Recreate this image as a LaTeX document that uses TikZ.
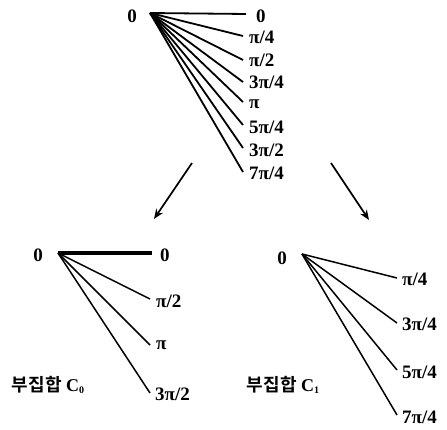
\documentclass[tikz,border=0pt]{standalone}
\usepackage{fontspec}
\setmainfont{Liberation Serif}
\newfontfamily\kr{Noto Sans CJK KR}[BoldFont={Noto Sans CJK KR Bold}]
\usetikzlibrary{arrows.meta}
\begin{document}
\begin{tikzpicture}[x=1pt,y=-1pt,
  lbl/.style={font=\bfseries\fontsize{19}{19}\selectfont, inner sep=0pt, anchor=west},
  src/.style={font=\bfseries\fontsize{19}{19}\selectfont, inner sep=0pt},
  ray/.style={line width=1.8pt},
  sray/.style={line width=1.5pt},
  arr/.style={line width=1.7pt, -{Stealth[length=10pt,width=8pt]}},
  sub/.style={font=\fontsize{18}{18}\selectfont, inner sep=0pt}]
\useasboundingbox (0,0) rectangle (447,430);
% top fan
\node[src] (t0) at (132,16) {0};
\coordinate (ta) at (150,13);
\coordinate (te0) at (246,14);
\coordinate (te1) at (243,36);
\coordinate (te2) at (243,60);
\coordinate (te3) at (243,82);
\coordinate (te4) at (243,102);
\coordinate (te5) at (243,125);
\coordinate (te6) at (243,148);
\coordinate (te7) at (243,172);
\node[lbl] (tl0) at (256,16) {0};
\node[lbl] (tl1) at (249,37) {π/4};
\node[lbl] (tl2) at (249,60) {π/2};
\node[lbl] (tl3) at (249,82) {3π/4};
\node[lbl] (tl4) at (249,104) {π};
\node[lbl] (tl5) at (249,127) {5π/4};
\node[lbl] (tl6) at (249,150) {3π/2};
\node[lbl] (tl7) at (249,173) {7π/4};
\foreach \i in {0,...,7} {\draw[ray] (ta) -- (te\i);}
% arrows
\coordinate (la0) at (192,163);
\coordinate (la1) at (154,219);
\coordinate (ra0) at (331,163);
\coordinate (ra1) at (369,220);
\draw[arr] (la0) -- (la1);
\draw[arr] (ra0) -- (ra1);
% bottom left
\node[src] (b0) at (38,255) {0};
\coordinate (ba) at (58,253);
\coordinate (be0) at (152,253);
\coordinate (be1) at (150,299);
\coordinate (be2) at (150,345);
\coordinate (be3) at (150,393);
\node[lbl] (bl0) at (160,255) {0};
\node[lbl] (bl1) at (156,301) {π/2};
\node[lbl] (bl2) at (156,345) {π};
\node[lbl] (bl3) at (155,394) {3π/2};
\draw[line width=3.2pt] (ba) -- (be0);
\foreach \i in {1,2,3} {\draw[sray] (ba) -- (be\i);}
\node[sub] (c0) at (48,385) {{\kr\bfseries 부집합} \textbf{C}\raisebox{-0.3ex}{\fontsize{10}{10}\selectfont\textbf{0}}};
% bottom right
\node[src] (r0) at (282,258) {0};
\coordinate (ra) at (302,254);
\coordinate (re0) at (397,278);
\coordinate (re1) at (397,323);
\coordinate (re2) at (397,370);
\coordinate (re3) at (397,415);
\node[lbl] (rl0) at (402,279) {π/4};
\node[lbl] (rl1) at (402,324) {3π/4};
\node[lbl] (rl2) at (402,372) {5π/4};
\node[lbl] (rl3) at (402,417) {7π/4};
\foreach \i in {0,...,3} {\draw[sray] (ra) -- (re\i);}
\node[sub] (c1) at (283,385) {{\kr\bfseries 부집합} \textbf{C}\raisebox{-0.3ex}{\fontsize{10}{10}\selectfont\textbf{1}}};
\end{tikzpicture}
\end{document}
